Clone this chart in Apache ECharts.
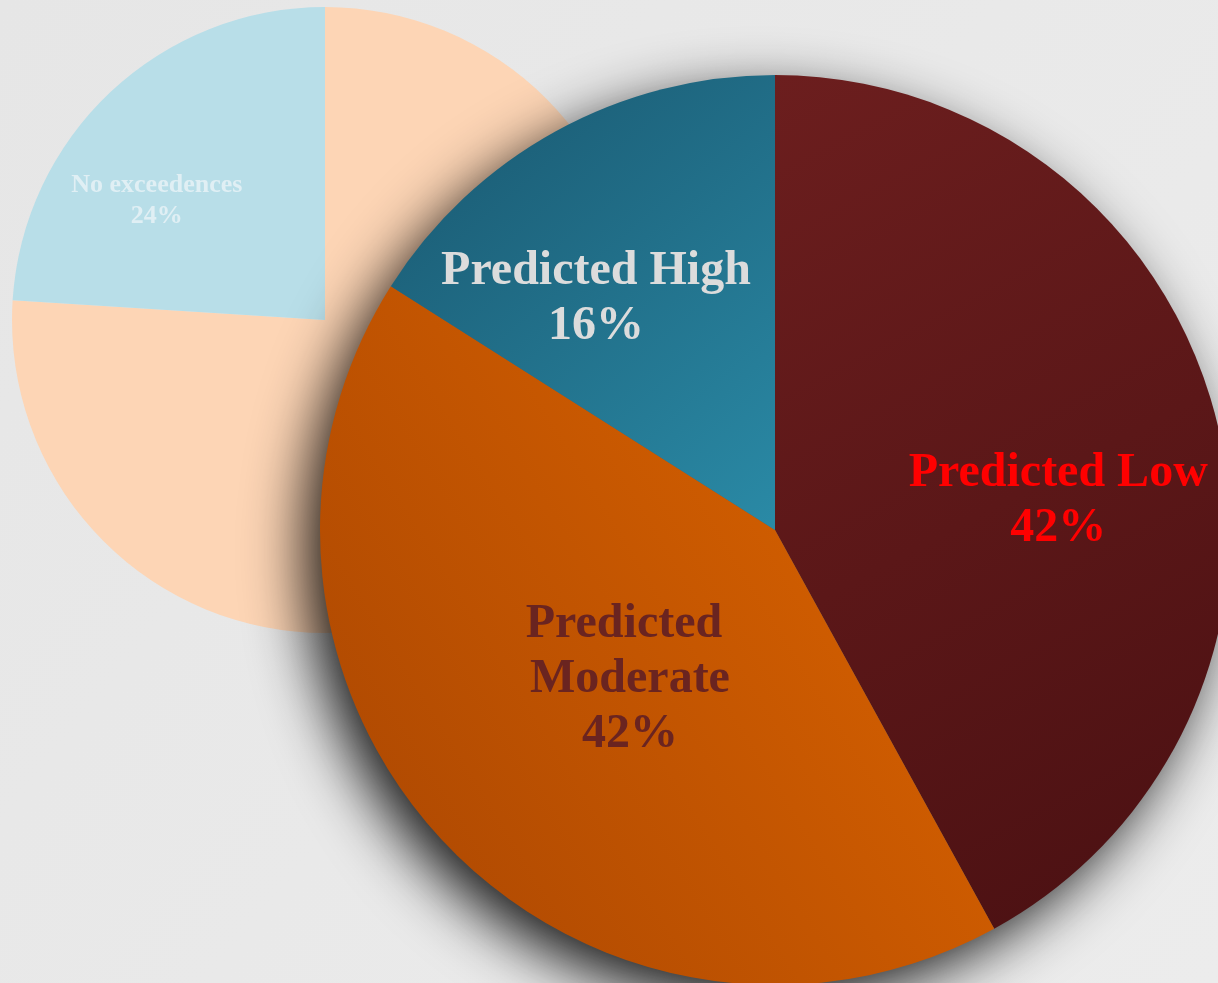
<!DOCTYPE html>
<html>
<head>
<meta charset="utf-8">
<title>Predicted exceedence levels</title>
<script src="https://cdn.jsdelivr.net/npm/echarts@6/dist/echarts.min.js"></script>
<style>
  html, body { margin: 0; padding: 0; background: #e8e8e8; }
  #chart { width: 1218px; height: 983px; }
</style>
</head>
<body>
<div id="chart"></div>
<script>
// Overall split of sites (faded pie, back)
const overallNames = ['Exceedences', 'No exceedences'];
const overallValues = [76, 24];

// Breakdown of predicted level (main pie, front)
const levelNames = ['Predicted Low', 'Predicted Moderate', 'Predicted High'];
const levelValues = [42, 42, 16];

const serif = '"Liberation Serif", "Times New Roman", serif';

function grad(x, y, x2, y2, c0, c1) {
  return { type: 'linear', x: x, y: y, x2: x2, y2: y2,
           colorStops: [{ offset: 0, color: c0 }, { offset: 1, color: c1 }] };
}

const levelStyles = [
  { color: grad(0, 0, 1, 1, '#6c1e1e', '#4a1012'),
    label: { color: '#ff0000', offset: [60, 28] } },
  { color: grad(0, 0.8, 1, 0.2, '#ad4802', '#dc6400'),
    label: { color: '#6a2420', offset: [23, -8], width: 220, overflow: 'break' } },
  { color: grad(0, 0, 1, 1, '#19566e', '#2a8aa6'),
    label: { color: '#dcdcdc', offset: [-68, -29] } }
];

const overallStyles = [
  { color: '#fdd5b5', label: { show: false } },
  { color: '#b8dee8', label: { show: true, offset: [-59, -3] } }
];

const chart = echarts.init(document.getElementById('chart'), null, { renderer: 'canvas' });

chart.setOption({
  backgroundColor: grad(0, 0, 1, 1, '#e6e6e6', '#ececec'),
  animation: false,
  series: [
    {
      type: 'pie',
      center: [325, 320],
      radius: [0, 313],
      startAngle: 90,
      clockwise: true,
      silent: true,
      label: {
        show: true,
        position: 'inside',
        formatter: '{b}\n{d}%',
        fontFamily: serif,
        fontWeight: 'bold',
        fontSize: 26,
        lineHeight: 31,
        color: '#e0eff4'
      },
      labelLine: { show: false },
      itemStyle: { borderWidth: 0 },
      data: overallNames.map((n, i) => ({
        name: n, value: overallValues[i],
        itemStyle: { color: overallStyles[i].color },
        label: overallStyles[i].label
      }))
    },
    {
      // soft drop shadow under the main pie
      type: 'pie',
      center: [775, 530],
      radius: [0, 453],
      silent: true,
      label: { show: false },
      labelLine: { show: false },
      itemStyle: {
        color: '#5a5a5a',
        shadowBlur: 60,
        shadowColor: 'rgba(0,0,0,0.9)',
        shadowOffsetX: -16,
        shadowOffsetY: 20
      },
      data: [{ name: 'shadow', value: 1 }]
    },
    {
      type: 'pie',
      center: [775, 530],
      radius: [0, 455],
      startAngle: 90,
      clockwise: true,
      silent: true,
      label: {
        show: true,
        position: 'inside',
        formatter: '{b}\n{d}%',
        fontFamily: serif,
        fontWeight: 'bold',
        fontSize: 48,
        lineHeight: 55,
        align: 'center'
      },
      labelLine: { show: false },
      itemStyle: { borderWidth: 0 },
      data: levelNames.map((n, i) => ({
        name: n, value: levelValues[i],
        itemStyle: { color: levelStyles[i].color },
        label: levelStyles[i].label
      }))
    }
  ]
});
</script>
</body>
</html>
